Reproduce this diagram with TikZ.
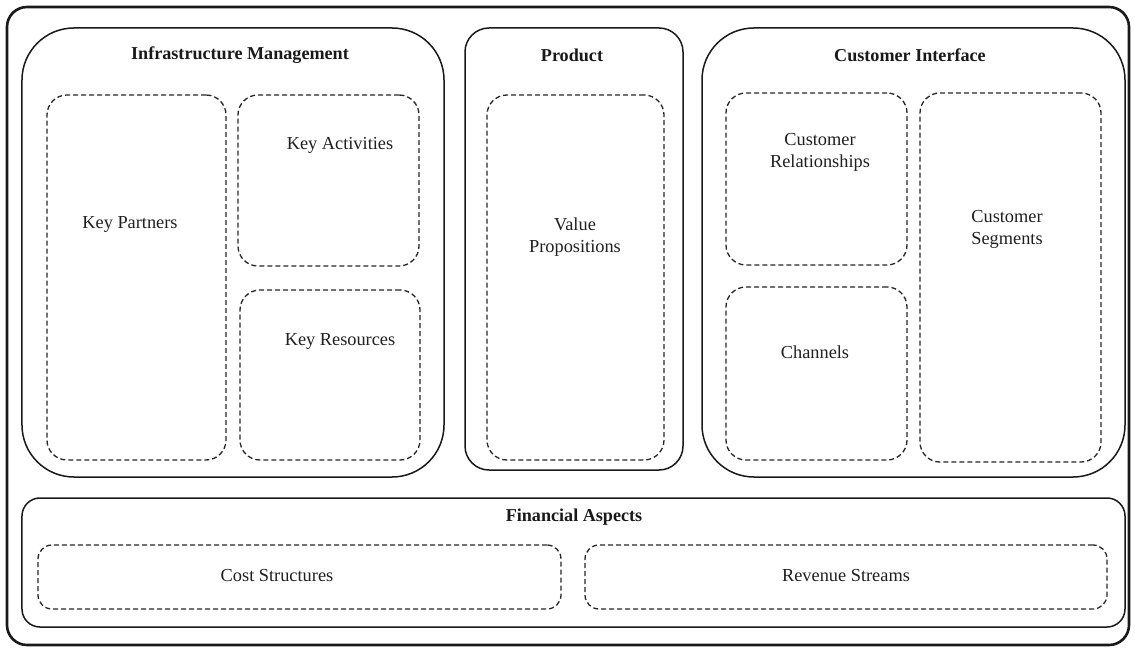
\documentclass[tikz,border=0pt]{standalone}
\usepackage{fontspec}
\setmainfont{Liberation Serif}
\begin{document}
\begin{tikzpicture}[x=1bp,y=-1bp,
  frame/.style={draw=black!90, line width=2.6bp, rounded corners=20bp, inner sep=0pt},
  group/.style={draw=black!90, line width=1.5bp, inner sep=0pt},
  part/.style={draw=black!85, line width=1.3bp, dash pattern=on 5bp off 3bp, rounded corners=20bp, inner sep=0pt},
  title/.style={font=\fontsize{18.2}{21}\selectfont\bfseries, text=black!90},
  label/.style={font=\fontsize{18.4}{22}\selectfont, text=black!88, align=center}]
\useasboundingbox (0,0) rectangle (1135,648);

% outer frame
\node[frame, minimum width=1122bp, minimum height=638bp] (canvas) at (568,326) {};

% the four building areas
\node[group, rounded corners=52bp, minimum width=422bp, minimum height=449bp] (infra) at (233,252.5) {};
\node[group, rounded corners=24bp, minimum width=218bp, minimum height=442bp] (product) at (574,249) {};
\node[group, rounded corners=52bp, minimum width=423bp, minimum height=449bp] (custif) at (913.5,252.5) {};
\node[group, rounded corners=18bp, minimum width=1103bp, minimum height=129bp] (finance) at (573.5,562.5) {};

% dashed building blocks
\node[part, minimum width=179bp, minimum height=365bp] (partners) at (136.5,277.5) {};
\node[part, minimum width=181bp, minimum height=171bp] (activities) at (328.5,180.5) {};
\node[part, minimum width=180bp, minimum height=170bp] (resources) at (330,375) {};
\node[part, minimum width=177bp, minimum height=365bp] (value) at (575.5,277.5) {};
\node[part, minimum width=181bp, minimum height=172bp] (relations) at (816.5,179) {};
\node[part, minimum width=181bp, minimum height=173bp] (channels) at (816.5,373.5) {};
\node[part, minimum width=181bp, minimum height=369bp] (segments) at (1010.5,277.5) {};
\node[part, rounded corners=14bp, minimum width=523bp, minimum height=64bp] (cost) at (299.5,577) {};
\node[part, rounded corners=14bp, minimum width=522bp, minimum height=64bp] (revenue) at (846,577) {};

% headings
\node[title] (tinfra) at (240,55) {Infrastructure Management};
\node[title] (tproduct) at (572,55) {Product};
\node[title] (tcustif) at (910,55) {Customer Interface};
\node[title] (tfinance) at (574,517) {Financial Aspects};

% block labels
\node[label] (lpartners) at (130,224) {Key Partners};
\node[label] (lactivities) at (340,145) {Key Activities};
\node[label] (lresources) at (340,341) {Key Resources};
\node[label] (lvalue) at (575,237) {Value\\Propositions};
\node[label] (lrelations) at (820,152) {Customer\\Relationships};
\node[label] (lchannels) at (815,352) {Channels};
\node[label] (lsegments) at (1007,229) {Customer\\Segments};
\node[label] (lcost) at (277,576) {Cost Structures};
\node[label] (lrevenue) at (846,576) {Revenue Streams};
\end{tikzpicture}
\end{document}
